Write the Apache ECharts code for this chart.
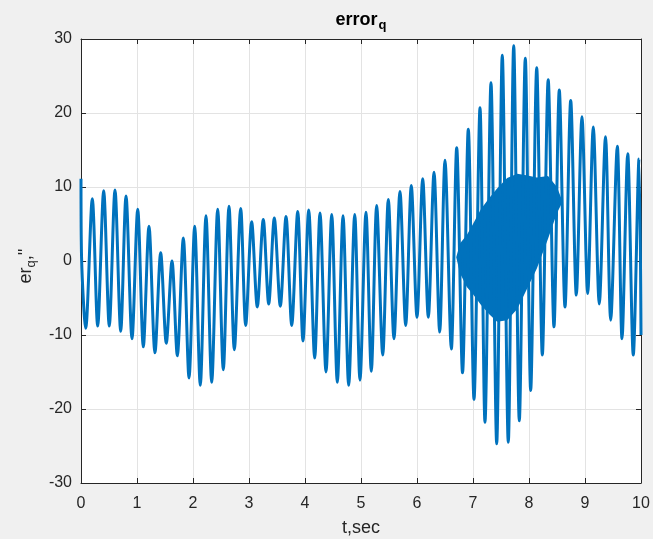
<!DOCTYPE html>
<html>
<head>
<meta charset="utf-8">
<script src="https://cdn.jsdelivr.net/npm/echarts@6/dist/echarts.min.js"></script>
<style>
  html, body { margin: 0; padding: 0; background: #f0f0f0; }
  #chart { width: 653px; height: 539px; }
</style>
</head>
<body>
<div id="chart"></div>
<script>
// peaks and troughs of error_q (t in sec)
var timeSec = [0, 0.01, 0.084, 0.202, 0.298, 0.405, 0.505, 0.607, 0.709, 0.804, 0.911,
  1.013, 1.113, 1.214, 1.321, 1.423, 1.523, 1.625, 1.72, 1.827, 1.929,
  2.03, 2.13, 2.232, 2.334, 2.441, 2.541, 2.643, 2.738, 2.852, 2.941,
  3.048, 3.148, 3.255, 3.352, 3.452, 3.559, 3.661, 3.763, 3.87, 3.964,
  4.066, 4.173, 4.268, 4.375, 4.477, 4.577, 4.679, 4.78, 4.888, 4.982,
  5.089, 5.184, 5.28, 5.388, 5.488, 5.589, 5.696, 5.798, 5.898, 6.0,
  6.102, 6.202, 6.304, 6.405, 6.5, 6.613, 6.709, 6.813, 6.916, 7.018,
  7.125, 7.214, 7.321, 7.423, 7.523, 7.63, 7.727, 7.827, 7.934, 8.03,
  8.138, 8.238, 8.343, 8.446, 8.541, 8.643, 8.745, 8.845, 8.946, 9.048,
  9.148, 9.255, 9.366, 9.459, 9.577, 9.661, 9.763, 9.862, 9.964, 10];
var errorQ = [11.1, 0.5, -9.1, 8.4, -8.8, 9.5, -8.8, 9.6, -9.5, 8.8, -10.5,
  7.0, -11.6, 4.7, -12.4, 1.1, -11.1, 0.0, -12.8, 3.1, -15.8,
  4.7, -16.8, 6.1, -16.4, 7.0, -14.7, 7.4, -12.0, 7.1, -8.7,
  5.3, -6.2, 5.6, -5.8, 5.8, -6.1, 6.0, -8.7, 6.7, -10.8,
  6.9, -13.1, 6.5, -15.0, 6.3, -16.4, 6.1, -16.8, 6.3, -16.1,
  6.6, -14.9, 7.5, -12.7, 8.3, -10.5, 9.4, -8.7, 10.2, -7.6,
  11.1, -7.6, 12.0, -9.6, 13.6, -11.9, 15.3, -15.1, 17.8, -18.7,
  20.7, -21.8, 24.1, -24.7, 27.8, -24.5, 29.1, -21.6, 27.4, -17.5,
  26.1, -12.7, 24.5, -8.9, 23.1, -6.2, 21.7, -4.6, 19.5, -4.4,
  18.1, -5.8, 16.8, -8.0, 15.5, -10.5, 14.5, -12.7, 13.8, -10.0];

// the dense high-frequency blob around 7-8.5 sec: lower and upper edge
var blobT = [6.70, 6.77, 6.89, 7.0, 7.14, 7.29, 7.43, 7.61, 7.79, 7.95, 8.14, 8.34, 8.50, 8.60];
var blobLow = [0.5, -1.7, -3.5, -4.5, -5.9, -7.2, -8.2, -8.0, -6.5, -4.0, -1.0, 3.0, 6.5, 8.0];
var blobHigh = [0.5, 2.4, 3.5, 5.0, 7.0, 8.5, 9.8, 11.2, 11.8, 11.6, 11.3, 11.5, 10.0, 8.0];

var lineColor = '#0072bd';
var axisColor = '#262626';
var gridColor = '#e3e3e3';
var fontFam = 'Liberation Sans, Arial, sans-serif';

var myChart = echarts.init(document.getElementById('chart'));

function sideAxis(pos, min, max, step) {
  return {
    type: 'value',
    position: pos,
    min: min,
    max: max,
    interval: step,
    axisLine: { show: true, onZero: false, lineStyle: { color: axisColor, width: 1 } },
    axisTick: { show: true, inside: true, length: 5, lineStyle: { color: axisColor } },
    axisLabel: { show: false },
    splitLine: { show: false }
  };
}

// blob outline: upper edge forward, lower edge back
var blobData = blobT.map(function (t, i) { return [t, blobHigh[i]]; })
  .concat(blobT.map(function (t, i) { return [t, blobLow[i]]; }).reverse());

myChart.setOption({
  backgroundColor: '#f0f0f0',
  animation: false,
  title: {
    text: '{a|error}{b|q}',
    left: 356,
    textAlign: 'center',
    top: 3,
    textStyle: {
      rich: {
        a: { fontFamily: fontFam, fontSize: 18, fontWeight: 'bold', color: '#000' },
        b: { fontFamily: fontFam, fontSize: 13, fontWeight: 'bold', color: '#000', padding: [11, 0, 0, 1] }
      }
    }
  },
  grid: {
    left: 81,
    top: 39,
    right: 12,
    bottom: 56,
    outerBoundsMode: 'none',
    containLabel: false,
    show: true,
    backgroundColor: '#ffffff',
    borderWidth: 0
  },
  xAxis: [{
    type: 'value',
    position: 'bottom',
    min: 0,
    max: 10,
    interval: 1,
    name: 't,sec',
    nameLocation: 'middle',
    nameGap: 36,
    nameTextStyle: { fontFamily: fontFam, fontSize: 18, color: axisColor },
    axisLine: { show: true, onZero: false, lineStyle: { color: axisColor, width: 1 } },
    axisTick: { show: true, inside: true, length: 5, lineStyle: { color: axisColor } },
    axisLabel: { fontFamily: fontFam, fontSize: 16, color: axisColor, margin: 13 },
    splitLine: { show: true, lineStyle: { color: gridColor, width: 1 } }
  }, sideAxis('top', 0, 10, 1)],
  yAxis: [{
    type: 'value',
    position: 'left',
    min: -30,
    max: 30,
    interval: 10,
    name: '{a|er}{b|q}{c|,\'\'}',
    nameLocation: 'middle',
    nameRotate: 90,
    nameGap: 43,
    nameTextStyle: {
      rich: {
        a: { fontFamily: fontFam, fontSize: 18, color: axisColor },
        b: { fontFamily: fontFam, fontSize: 13, color: axisColor, padding: [11, 0, 0, 0] },
        c: { fontFamily: fontFam, fontSize: 18, color: axisColor, padding: [0, 10, 0, 0] }
      }
    },
    axisLine: { show: true, onZero: false, lineStyle: { color: axisColor, width: 1 } },
    axisTick: { show: true, inside: true, length: 5, lineStyle: { color: axisColor } },
    axisLabel: { fontFamily: fontFam, fontSize: 16, color: axisColor, margin: 9 },
    splitLine: { show: true, lineStyle: { color: gridColor, width: 1 } }
  }, sideAxis('right', -30, 30, 10)],
  series: [{
    name: 'blob',
    type: 'custom',
    data: blobData,
    renderItem: function (params, api) {
      if (params.dataIndex !== 0) return;
      var pts = blobData.map(function (d) { return api.coord(d); });
      return {
        type: 'polygon',
        shape: { points: pts },
        style: { fill: lineColor }
      };
    }
  }, {
    name: 'error_q',
    type: 'line',
    symbol: 'none',
    smooth: 0.3,
    lineStyle: { color: lineColor, width: 3, join: 'round' },
    data: timeSec.map(function (t, i) { return [t, errorQ[i]]; })
  }]
});
</script>
</body>
</html>
